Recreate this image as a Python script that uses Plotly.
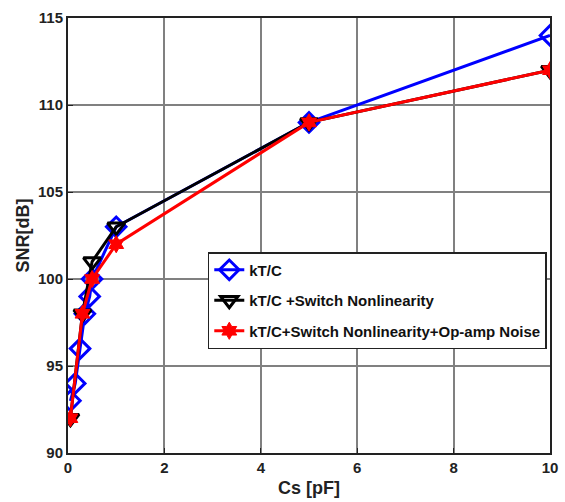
import plotly.graph_objects as go

# Data
blue_x = [0.05, 0.15, 0.25, 0.35, 0.45, 0.5, 1, 5, 10]
blue_y = [93, 94, 96, 98, 99, 100, 103, 109, 114]
black_x = [0.05, 0.3, 0.5, 1, 5, 10]
black_y = [92, 98, 101, 103, 109, 112]
red_x = [0.05, 0.3, 0.5, 1, 5, 10]
red_y = [92, 98, 100, 102, 109, 112]
names = ["kT/C", "kT/C +Switch Nonlinearity", "kT/C+Switch Nonlinearity+Op-amp Noise"]
x_ticks = [0, 2, 4, 6, 8, 10]
y_ticks = [90, 95, 100, 105, 110, 115]

fig = go.Figure()
fig.add_trace(go.Scatter(x=blue_x, y=blue_y, name=names[0], mode="lines+markers", legendgroup="a",
                         line=dict(color="#0000ff", width=3),
                         marker=dict(symbol="diamond-open", size=15, color="#0000ff", line=dict(width=3))))
fig.add_trace(go.Scatter(x=black_x, y=black_y, name=names[1], mode="lines+markers", legendgroup="b",
                         line=dict(color="#000000", width=3),
                         marker=dict(symbol="triangle-down-open", size=15, color="#000000", line=dict(width=3))))
fig.add_trace(go.Scatter(x=red_x, y=red_y, name=names[2], mode="lines+markers", legendgroup="c",
                         line=dict(color="#ff0000", width=3),
                         marker=dict(symbol="hexagram", size=13, color="#ff0000", line=dict(width=1, color="#ff0000"))))

font = "Liberation Sans, Arial, sans-serif"
fig.update_layout(
    width=565, height=502,
    margin=dict(l=68, r=15, t=18, b=49),
    paper_bgcolor="white", plot_bgcolor="white",
    font=dict(family=font, color="#222222"),
    showlegend=True,
    legend=dict(x=0.29, y=0.462, xanchor="left", yanchor="top",
                bgcolor="white", bordercolor="#222222", borderwidth=1.5,
                font=dict(size=15, family=font, color="#111111", weight="bold"),
                traceorder="grouped", tracegroupgap=8, itemwidth=30),
    xaxis=dict(range=[0, 10], tickvals=x_ticks, showgrid=True, gridcolor="#808080", gridwidth=2,
               showline=True, linecolor="#222222", linewidth=2, mirror=True, automargin=False,
               ticks="inside", ticklen=5, tickcolor="#222222", zeroline=False,
               tickfont=dict(size=15, weight="bold"),
               title=dict(text="Cs [pF]", font=dict(size=18, weight="bold"), standoff=6)),
    yaxis=dict(range=[90, 115], tickvals=y_ticks, showgrid=True, gridcolor="#808080", gridwidth=2,
               showline=True, linecolor="#222222", linewidth=2, mirror=True, automargin=False,
               ticks="inside", ticklen=5, tickcolor="#222222", zeroline=False,
               tickfont=dict(size=15, weight="bold"),
               title=dict(text="SNR[dB]", font=dict(size=18, weight="bold"), standoff=4)),
)
fig.write_html("out.html")
